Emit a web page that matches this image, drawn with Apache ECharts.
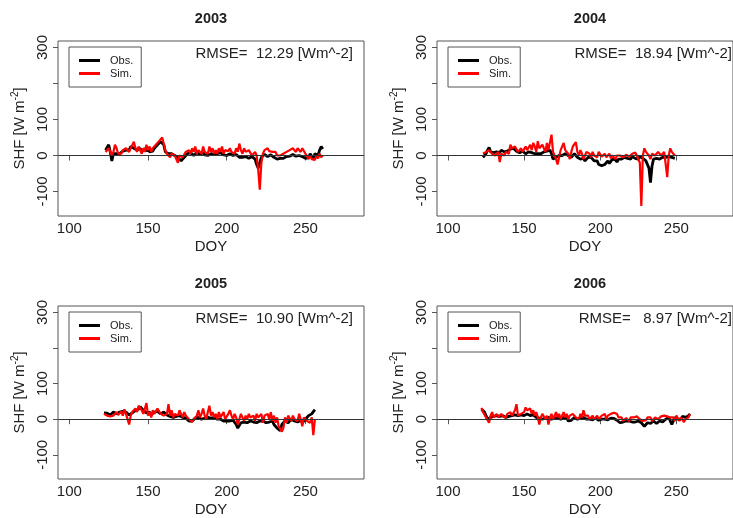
<!DOCTYPE html>
<html>
<head>
<meta charset="utf-8">
<script src="https://cdn.jsdelivr.net/npm/echarts@6/dist/echarts.min.js"></script>
<style>
  html, body { margin: 0; padding: 0; background: #fff; }
  #chart { width: 733px; height: 518px; }
</style>
</head>
<body>
<div id="chart"></div>
<script>
const years = ['2003', '2004', '2005', '2006'];
const rmse = ['12.29', '18.94', '10.90', '8.97'];
const startDoy = [123, 123, 122, 122];
const xTicks = [100, 150, 200, 250];
const yTicks = [-100, 0, 100, 200, 300];
const yLabels = [-100, 0, 100, 300];

// daily sensible heat flux, W m-2
const obs2003 = [
  15, 20, 30, 10, -15, 5, 10, 5, 8, 5,
  10, 12, 8, 15, 20, 15, 25, 30, 20, 25,
  15, 12, 20, 10, 15, 20, 12, 18, 10, 15,
  12, 20, 25, 30, 35, 38, 40, 30, 10, 5,
  5, 0, 5, 3, 0, 2, -5, -10, -15, -12,
  -5, 0, 5, 3, 8, 5, 0, 5, 8, 5,
  3, 5, 8, 2, 5, 0, 3, 5, 8, 3,
  0, 5, 3, 8, 5, 2, 5, 0, 3, 5,
  2, 0, 5, 3, 0, -5, -3, -5, 0, -3,
  -5, -8, -5, -3, -8, -10, -25, -35, -20, -5,
  0, 3, 0, -3, 0, 2, -2, -5, -8, -10,
  -5, -8, -12, -8, -5, -3, 0, -2, 0, 3,
  0, -2, 2, 0, -5, -3, 0, -8, -12, -5,
  5, 0, -10, 5, 10, 0, 15, 25, 18
];
const sim2003 = [
  10, 15, 20, 15, 0, 10, 30, 20, 5, 10,
  5, 15, 10, 20, 15, 10, 20, 25, 38, 20,
  10, 25, 15, 5, 20, 10, 30, 15, 25, 10,
  20, 15, 30, 25, 40, 35, 50, 45, 15, 5,
  10, -5, 5, 10, 0, 5, -20, 0, 5, -5,
  0, 10, 5, 15, 5, 20, 10, 25, 5, 15,
  20, 5, 25, 10, 15, 5, 25, 10, 20, 5,
  15, 5, 20, 10, 25, 5, 15, 10, 12, 20,
  10, 15, 5, 20, 10, 33, 15, 5, 20, 10,
  5, 15, 10, 0, 5, 10, 0, -40, -95, -20,
  5, 15, 10, 20, 12, 15, 10, 5, 10, 0,
  5, 0, -5, 5, 0, 10, 5, 15, 10, 20,
  15, 10, 20, 15, 10, 20, 15, 5, 10, -10,
  0, -10, -5, -12, 0, -8, 5, -5, 0
];
const obs2004 = [
  -5, 0, 5, 15, 22, 10, 5, 8, 5, 10,
  5, 8, 15, 20, 10, 8, 12, 15, 18, 15,
  20, 15, 12, 10, 8, 10, 12, 8, 5, 8,
  10, 5, 8, 10, 5, 8, 5, 10, 5, 8,
  10, 5, 12, 8, 15, 5, -10, -15, -5, -8,
  0, 5, 0, -5, 5, 10, 0, 5, -5, 0,
  5, 0, -5, 0, -10, -5, -8, -15, -10, -5,
  0, -5, -10, -15, -20, -15, -25, -20, -28, -30,
  -25, -20, -15, -22, -18, -10, -15, -12, -18, -10,
  -15, -10, -12, -5, -10, -8, -5, -10, -3, -5,
  -8, -5, -10, -3, -5, -8, -10, -15, -20, -35,
  -75, -30, -10, -5, -8, -5, -10, -15, -5, -8,
  -5, -10, -3, -8, -5, -3, -8
];
const sim2004 = [
  5, 0, 10, 5, 15, 10, 5, 10, 0, 5,
  10, -18, 5, 10, 0, 10, 15, 5, 30, 20,
  15, 25, 20, 10, 15, 20, 10, 15, 25, 15,
  20, 30, 15, 35, 25, 10, 40, 20, 15, 30,
  25, 10, 35, 15, 20, 58, 10, 0, -10, -25,
  -5, 15, 10, 35, 15, 20, 5, -10, 10, 25,
  30, 37, 10, 0, 15, 5, -10, 0, 10, 15,
  5, -5, 10, 0, 5, -5, 10, 5, -3, 0,
  5, -5, 0, 5, -8, 0, 5, -10, 0, -5,
  0, 3, -5, 0, 2, 0, -3, 0, 5, 0,
  8, 0, 5, -20, -140, 0, 20, 10, 5, 0,
  -10, 5, 10, 0, 5, 10, 5, 0, 5, 10,
  15, -60, 0, 20, 10, 5, 0
];
const obs2005 = [
  18, 15, 17, 14, 12, 15, 20, 18, 15, 17,
  20, 25, 22, 25, 20, 15, 12, 15, 18, 20,
  25, 30, 28, 35, 30, 25, 20, 18, 15, 20,
  12, 15, 20, 18, 22, 20, 15, 18, 20, 15,
  12, 10, 8, 12, 5, 10, 8, 5, 10, 8,
  5, 8, 3, 0, -5, -3, -5, 0, 3, 0,
  5, 3, 0, 5, 2, 0, 5, 8, 3, 0,
  5, 3, 0, -3, 0, 5, -5, -10, -5, 0,
  -5, 0, -3, -8, -15, -25, -20, -10, -5, -8,
  -5, -10, -8, -5, -10, -8, -5, -10, -8, -5,
  -10, -5, -8, -10, -5, -8, -12, -5, -15, -20,
  -25, -30, -32, -15, -10, -5, -8, -10, -5, 0,
  -3, -5, 0, -8, -5, -3, -10, -5, 0, 5,
  10, 8, 15, 20, 27
];
const sim2005 = [
  15, 12, 10, 15, 8, 12, 10, 15, 20, 12,
  15, 22, 10, 28, 15, 20, -15, 10, 20, 15,
  30, 20, 38, 40, 25, 15, 30, 45, 10, 20,
  5, 25, 15, 20, 30, 25, 15, 20, 10, 5,
  15, 42, 10, 25, 5, 15, 20, 10, 25, 15,
  5, 20, 10, 5, 0, -5, -8, 0, 5, 10,
  25, 5, 15, 30, 10, 0, 20, 38, 10, 20,
  5, 15, 0, 20, 5, 10, 20, 0, 5, 15,
  25, 10, 0, 15, 5, -15, 0, 15, 5, -5,
  10, 0, 15, 5, 0, 10, -5, 15, 5, 0,
  15, -10, 10, 5, 15, 0, 20, -5, 10, -10,
  5, -20, -15, -35, -25, 5, -10, 10, 5, -5,
  10, 0, 5, -5, 15, 0, -20, 5, 10, -5,
  0, -10, 5, -45, 0
];
const obs2006 = [
  28, 25, 20, 10, 0, -5, 5, 0, 8, 5,
  10, 5, 8, 5, 10, 8, 5, 10, 8, 12,
  10, 15, 12, 15, 10, 8, 12, 15, 10, 12,
  15, 12, 10, 8, 12, 10, 5, 8, 3, 5,
  0, 5, 3, 0, 5, 2, 0, 5, 3, 0,
  5, 3, 0, 2, 5, 0, 3, -5, -10, -3,
  0, 5, 3, 0, 5, 3, 0, 5, 2, 0,
  -3, 0, 2, -2, 0, 3, 0, -3, 2, 0,
  3, 0, 2, -2, 0, 3, 5, 2, 0, -3,
  -8, -10, -12, -8, -10, -5, -8, -5, -10, -8,
  -5, -8, -10, -5, -8, -10, -12, -20, -15, -10,
  -8, -12, -10, -5, -8, -12, -8, -5, -10, -8,
  -5, 0, -5, 5, 0, -15, -5, 5, 10, 0,
  5, 0, 8, 10, 5, 0, 10, 15
];
const sim2006 = [
  32, 20, 15, 5, 0, -10, 10, 20, 5, 10,
  15, 5, 10, 15, 8, 12, 5, 15, 10, 20,
  10, 15, 25, 42, 10, 5, 15, 10, 20, 33,
  25, 20, 30, 15, 25, 10, 20, 5, -15, 5,
  15, 20, 0, 10, -15, 5, 15, 0, 10, 20,
  5, 15, 0, 10, 20, 5, 15, 0, 10, 5,
  15, 20, 5, 10, 0, 15, 5, 25, 10, 5,
  10, 0, 5, 10, 0, 5, 10, 0, 5, 10,
  5, 15, 0, 10, 5, 15, 20, 18, 22, 15,
  5, 0, 5, -5, 0, 3, 0, -5, 5, 0,
  5, 0, 8, 3, 0, 5, -5, 0, -3, 5,
  0, 5, -5, 0, 5, 3, 0, 5, 8, 5,
  10, 5, 8, 12, 5, 10, 5, -5, 10, 5,
  -5, 5, 10, -8, 0, -5, 5, 15
];

const obsAll = [obs2003, obs2004, obs2005, obs2006];
const simAll = [sim2003, sim2004, sim2005, sim2006];

const FONT = 'Liberation Sans, Arial, sans-serif';
const TXT = '#222';
const BOX = '#555';
const LEG_ICON = 'path://M0,0 L21,0 L21,3 L0,3 Z';

const panels = [
  {left: 58, top: 41, height: 175},
  {left: 437, top: 41, height: 175},
  {left: 58, top: 306, height: 174},
  {left: 437, top: 306, height: 174}
];
const plotW = 306;

function toPairs(start, vals) {
  return vals.map((v, i) => [start + i, v]);
}

const chart = echarts.init(document.getElementById('chart'), null, {renderer: 'canvas'});

const grid = [], xAxis = [], yAxis = [], series = [], legend = [], graphic = [];

panels.forEach((p, i) => {
  grid.push({
    left: p.left, top: p.top, width: plotW, height: p.height,
    show: true, borderColor: BOX, borderWidth: 1, backgroundColor: 'transparent'
  });
  xAxis.push({
    gridIndex: i, type: 'value', min: 92.8, max: 287.2,
    axisLine: {show: false},
    splitLine: {show: false},
    axisTick: {customValues: xTicks, length: 5, lineStyle: {color: BOX}},
    axisLabel: {customValues: xTicks, fontSize: 15, color: TXT, fontFamily: FONT, margin: 5},
    name: 'DOY', nameLocation: 'middle', nameGap: 23,
    nameTextStyle: {fontSize: 15, color: TXT, fontFamily: FONT}
  });
  yAxis.push({
    gridIndex: i, type: 'value', min: -168, max: 318,
    axisLine: {show: false},
    splitLine: {show: false},
    axisTick: {customValues: yTicks, length: 5, lineStyle: {color: BOX}},
    axisLabel: {customValues: yLabels, rotate: 90, fontSize: 15, color: TXT, fontFamily: FONT, margin: 8},
    name: 'SHF [W m{sup|-2}]', nameLocation: 'middle', nameGap: 29, nameRotate: 90,
    nameTextStyle: {
      fontSize: 15, color: TXT, fontFamily: FONT,
      rich: {sup: {fontSize: 10, color: TXT, fontFamily: FONT, padding: [0, 0, 9, 0]}}
    }
  });
  series.push({
    name: 'Obs.', type: 'line', xAxisIndex: i, yAxisIndex: i,
    data: toPairs(startDoy[i], obsAll[i]),
    symbol: 'none', color: '#000', lineStyle: {width: 2.8, color: '#000'},
    markLine: {
      silent: true, symbol: 'none', label: {show: false},
      lineStyle: {color: '#333', width: 1, type: 'solid'},
      data: [{yAxis: 0}]
    }
  });
  series.push({
    name: 'Sim.', type: 'line', xAxisIndex: i, yAxisIndex: i,
    data: toPairs(startDoy[i], simAll[i]),
    symbol: 'none', color: '#f00', lineStyle: {width: 2.2, color: '#f00'}
  });
  legend.push({
    data: [{name: 'Obs.', icon: LEG_ICON}, {name: 'Sim.', icon: LEG_ICON}],
    orient: 'vertical',
    left: p.left + 11, top: p.top + 6,
    padding: [8, 8, 8, 10], itemGap: 2, itemWidth: 21, itemHeight: 12,
    borderColor: BOX, borderWidth: 1, borderRadius: 0,
    selectedMode: false,
    textStyle: {fontSize: 11, color: TXT, fontFamily: FONT, padding: [0, 0, 0, 5]}
  });
  graphic.push({
    type: 'text', x: p.left + plotW / 2, y: p.top - 22,
    style: {text: years[i], align: 'center', verticalAlign: 'middle',
      font: 'bold 14.5px ' + FONT, fill: TXT}
  });
  graphic.push({
    type: 'text', x: Math.min(p.left + plotW - 11, 732), y: p.top + 13,
    style: {text: 'RMSE= ' + rmse[i].padStart(6, ' ') + ' [Wm^-2]', align: 'right',
      verticalAlign: 'middle', font: '15px ' + FONT, fill: TXT}
  });
});

chart.setOption({
  backgroundColor: '#fff',
  animation: false,
  grid: grid,
  xAxis: xAxis,
  yAxis: yAxis,
  legend: legend,
  graphic: graphic,
  series: series
});
</script>
</body>
</html>
